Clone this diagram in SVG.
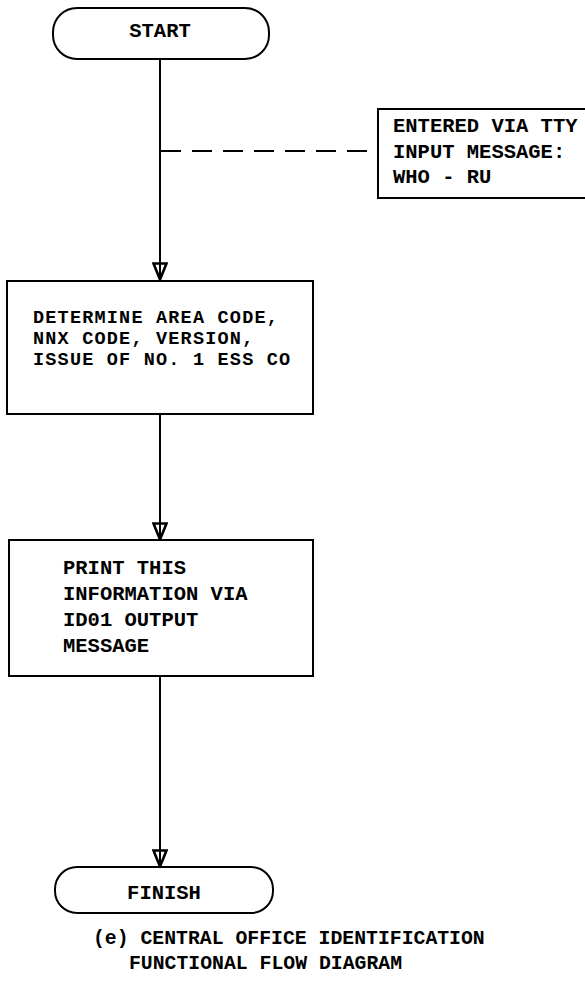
<svg xmlns="http://www.w3.org/2000/svg" width="585" height="981" viewBox="0 0 585 981">
<style>
.box{fill:#fff;stroke:#000;stroke-width:2}
.ln{fill:none;stroke:#000;stroke-width:2}
.dash{fill:none;stroke:#000;stroke-width:2;stroke-dasharray:20 11}
.t{font-family:"Liberation Mono","DejaVu Sans Mono",monospace;font-weight:bold;font-size:20.5px;fill:#000}
.s{font-size:18.5px;letter-spacing:1.2px}
.cap{font-size:19.8px}
.c{text-anchor:middle}
</style>
<defs>
<marker id="arr" viewBox="0 0 20 16" refX="19" refY="8" markerWidth="20" markerHeight="16" markerUnits="userSpaceOnUse" orient="auto">
<path d="M2.5,1.5 L18.5,8 L2.5,14.5 Z" fill="#fff" stroke="#000" stroke-width="2.6" stroke-linejoin="miter"/>
<path d="M0,8 L18,8" stroke="#000" stroke-width="2"/>
</marker>
</defs>
<rect width="585" height="981" fill="#fff"/>
<g id="connectors">
<path class="ln" d="M160,59 L160,280" marker-end="url(#arr)"/>
<path class="dash" d="M161,151 L378,151"/>
<path class="ln" d="M160,414 L160,540" marker-end="url(#arr)"/>
<path class="ln" d="M160,676 L160,867" marker-end="url(#arr)"/>
</g>
<g id="start">
<rect class="box" x="53" y="8" width="216" height="51" rx="24" ry="24"/>
<text class="t c" x="160" y="37">START</text>
</g>
<g id="tty">
<rect class="box" x="378" y="109" width="215" height="89"/>
<text class="t" x="393" y="132">ENTERED VIA TTY</text>
<text class="t" x="393" y="158">INPUT MESSAGE:</text>
<text class="t" x="393" y="183">WHO - RU</text>
</g>
<g id="determine">
<rect class="box" x="7" y="281" width="306" height="133"/>
<text class="t s" x="33" y="323">DETERMINE AREA CODE,</text>
<text class="t s" x="33" y="344">NNX CODE, VERSION,</text>
<text class="t s" x="33" y="365">ISSUE OF NO. 1 ESS CO</text>
</g>
<g id="print">
<rect class="box" x="9" y="540" width="304" height="136"/>
<text class="t" x="63" y="574">PRINT THIS</text>
<text class="t" x="63" y="600">INFORMATION VIA</text>
<text class="t" x="63" y="626">ID01 OUTPUT</text>
<text class="t" x="63" y="652">MESSAGE</text>
</g>
<g id="finish">
<rect class="box" x="55" y="867" width="218" height="46" rx="22" ry="22"/>
<text class="t c" x="164" y="899">FINISH</text>
</g>
<g id="caption">
<text class="t cap" x="93" y="944">(e) CENTRAL OFFICE IDENTIFICATION</text>
<text class="t cap" x="129" y="969">FUNCTIONAL FLOW DIAGRAM</text>
</g>
</svg>
